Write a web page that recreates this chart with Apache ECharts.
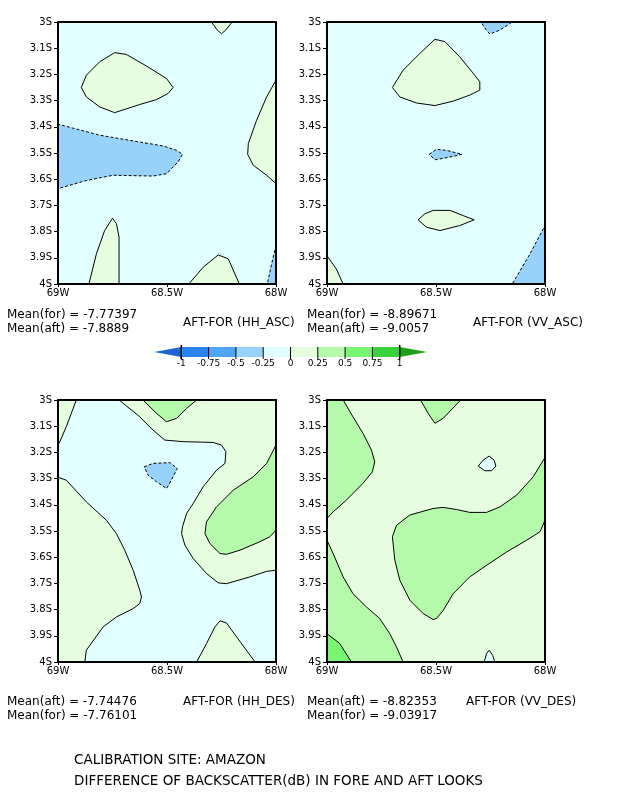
<!DOCTYPE html>
<html>
<head>
<meta charset="utf-8">
<script src="https://cdn.jsdelivr.net/npm/echarts@6/dist/echarts.min.js"></script>
<style>
html, body { margin: 0; padding: 0; background: #fff; }
#container { width: 618px; height: 800px; }
</style>
</head>
<body>
<div id="container"></div>
<script>
// contour levels and the shade of each band (below -1 ... above 1)
const levels = [-1, -0.75, -0.5, -0.25, 0, 0.25, 0.5, 0.75, 1];
const shadeColors = ['#1e64d2', '#2882f0', '#50a5f5', '#96d2fa', '#e1ffff',
                     '#e6fde0', '#b4faaa', '#78f573', '#37d23c', '#1ea01e'];

const panelTitles = ['AFT-FOR (HH_ASC)', 'AFT-FOR (VV_ASC)', 'AFT-FOR (HH_DES)', 'AFT-FOR (VV_DES)'];
const meanNames = [['Mean(for)', 'Mean(aft)'], ['Mean(for)', 'Mean(aft)'],
                   ['Mean(aft)', 'Mean(for)'], ['Mean(aft)', 'Mean(for)']];
const meanValues = [[-7.77397, -7.8889], [-8.89671, -9.0057],
                    [-7.74476, -7.76101], [-8.82353, -9.03917]];
// lower bound of the band that fills most of each panel
const panelBase = [-0.25, -0.25, 0, 0];

// contour regions, [lon, lat]; points past the frame are clipped
const hhAscTopNub = [[-68.31, -2.97], [-68.296, -3.0], [-68.27, -3.03], [-68.25, -3.045], [-68.23, -3.03], [-68.201, -3.0], [-68.19, -2.97]];
const hhAscNorthBlob = [[-68.893, -3.25], [-68.87, -3.203], [-68.809, -3.152], [-68.74, -3.117], [-68.686, -3.124], [-68.594, -3.168],
  [-68.502, -3.216], [-68.472, -3.25], [-68.495, -3.273], [-68.548, -3.296], [-68.625, -3.315], [-68.74, -3.346], [-68.809, -3.324], [-68.87, -3.286]];
const hhAscWestTongue = [[-69.05, -3.39], [-69, -3.39], [-68.809, -3.432], [-68.655, -3.454], [-68.518, -3.473], [-68.456, -3.49],
  [-68.429, -3.505], [-68.449, -3.534], [-68.502, -3.579], [-68.564, -3.588], [-68.747, -3.585], [-68.87, -3.605], [-69, -3.636], [-69.05, -3.64]];
const hhAscEastLobe = [[-67.95, -3.2], [-68, -3.222], [-68.043, -3.286], [-68.089, -3.375], [-68.127, -3.464], [-68.13, -3.505],
  [-68.104, -3.547], [-68.043, -3.585], [-68, -3.617], [-67.95, -3.63]];
const hhAscSouthFinger = [[-68.865, -4.05], [-68.858, -4.0], [-68.824, -3.885], [-68.786, -3.796], [-68.75, -3.749], [-68.732, -3.77],
  [-68.72, -3.821], [-68.72, -4.0], [-68.72, -4.05]];
const hhAscSouthHill = [[-68.41, -4.05], [-68.4, -4.0], [-68.334, -3.936], [-68.265, -3.889], [-68.219, -3.904], [-68.168, -4.0], [-68.16, -4.05]];
const hhAscSouthEastDip = [[-68.045, -4.05], [-68.04, -4.0], [-68.02, -3.923], [-68, -3.853], [-67.95, -3.84], [-67.95, -4.05]];

const vvAscNorthDip = [[-68.3, -2.97], [-68.294, -3.0], [-68.27, -3.03], [-68.253, -3.046], [-68.207, -3.031], [-68.15, -3.0], [-68.14, -2.97]];
const vvAscNorthBlob = [[-68.7, -3.25], [-68.651, -3.184], [-68.574, -3.12], [-68.505, -3.066], [-68.459, -3.075], [-68.391, -3.133],
  [-68.329, -3.196], [-68.299, -3.228], [-68.299, -3.26], [-68.345, -3.279], [-68.421, -3.302], [-68.505, -3.319], [-68.59, -3.309], [-68.666, -3.286]];
const vvAscCentreLens = [[-68.531, -3.505], [-68.498, -3.486], [-68.452, -3.49], [-68.38, -3.505], [-68.452, -3.518], [-68.505, -3.526]];
const vvAscSouthLens = [[-68.582, -3.755], [-68.551, -3.732], [-68.513, -3.719], [-68.436, -3.719], [-68.375, -3.739], [-68.325, -3.755],
  [-68.391, -3.777], [-68.482, -3.796], [-68.544, -3.783]];
const vvAscSouthWest = [[-69.05, -3.88], [-69, -3.892], [-68.957, -3.943], [-68.926, -4.0], [-68.92, -4.05], [-69.05, -4.05]];
const vvAscSouthEast = [[-67.95, -3.76], [-68, -3.777], [-68.069, -3.885], [-68.15, -4.0], [-68.155, -4.05], [-67.95, -4.05]];

const hhDesChannel = [[-68.93, -2.95], [-68.916, -3.0], [-68.962, -3.102], [-68.995, -3.166], [-69.05, -3.21], [-69.05, -3.28],
  [-68.962, -3.306], [-68.87, -3.389], [-68.778, -3.459], [-68.732, -3.51], [-68.694, -3.573], [-68.655, -3.65], [-68.625, -3.726],
  [-68.617, -3.752], [-68.625, -3.777], [-68.655, -3.796], [-68.732, -3.828], [-68.793, -3.866], [-68.87, -3.955], [-68.877, -4.0],
  [-68.88, -4.05], [-68.39, -4.05], [-68.364, -4.0], [-68.319, -3.93], [-68.28, -3.866], [-68.257, -3.843], [-68.227, -3.851],
  [-68.181, -3.904], [-68.096, -4.0], [-68.09, -4.05], [-67.95, -4.05], [-67.95, -3.648], [-68, -3.65], [-68.043, -3.654],
  [-68.119, -3.675], [-68.227, -3.701], [-68.265, -3.698], [-68.319, -3.662], [-68.38, -3.605], [-68.418, -3.554], [-68.433, -3.51],
  [-68.429, -3.484], [-68.41, -3.433], [-68.38, -3.395], [-68.334, -3.331], [-68.273, -3.268], [-68.234, -3.242], [-68.23, -3.197],
  [-68.25, -3.172], [-68.288, -3.162], [-68.426, -3.159], [-68.51, -3.153], [-68.564, -3.115], [-68.625, -3.064], [-68.72, -3.0], [-68.71, -2.95]];
const hhDesNorthPatch = [[-68.62, -2.95], [-68.61, -3.0], [-68.548, -3.051], [-68.502, -3.083], [-68.456, -3.07], [-68.41, -3.032],
  [-68.364, -3.0], [-68.355, -2.95]];
const hhDesEastPatch = [[-67.95, -3.16], [-68, -3.172], [-68.043, -3.242], [-68.104, -3.293], [-68.196, -3.344], [-68.273, -3.408],
  [-68.319, -3.465], [-68.326, -3.51], [-68.303, -3.548], [-68.257, -3.586], [-68.227, -3.589], [-68.165, -3.573], [-68.074, -3.541],
  [-68.028, -3.522], [-68, -3.497], [-67.95, -3.49]];
const hhDesPit = [[-68.605, -3.255], [-68.564, -3.242], [-68.487, -3.239], [-68.453, -3.261], [-68.472, -3.293], [-68.502, -3.338],
  [-68.548, -3.312], [-68.587, -3.287]];

const vvDesNorthWest = [[-69.05, -2.95], [-68.92, -2.95], [-68.926, -3.0], [-68.881, -3.064], [-68.835, -3.127], [-68.796, -3.191],
  [-68.781, -3.236], [-68.792, -3.274], [-68.835, -3.318], [-68.911, -3.382], [-68.972, -3.427], [-69, -3.452], [-69.05, -3.46]];
const vvDesNorthNub = [[-68.58, -2.95], [-68.571, -3.0], [-68.536, -3.051], [-68.505, -3.089], [-68.467, -3.07], [-68.387, -3.0], [-68.38, -2.95]];
const vvDesSouthWest = [[-69.05, -3.53], [-69, -3.535], [-68.972, -3.586], [-68.926, -3.675], [-68.881, -3.739], [-68.819, -3.79],
  [-68.758, -3.834], [-68.712, -3.892], [-68.681, -3.943], [-68.651, -4.0], [-68.645, -4.05], [-69.05, -4.05]];
const vvDesCorner = [[-69.05, -3.88], [-69, -3.892], [-68.942, -3.929], [-68.888, -4.0], [-68.88, -4.05], [-69.05, -4.05]];
const vvDesCentre = [[-68.681, -3.478], [-68.62, -3.439], [-68.513, -3.414], [-68.467, -3.41], [-68.406, -3.418], [-68.345, -3.429],
  [-68.268, -3.429], [-68.207, -3.408], [-68.13, -3.363], [-68.054, -3.293], [-68, -3.219], [-67.95, -3.2], [-67.95, -3.46],
  [-68, -3.459], [-68.023, -3.503], [-68.084, -3.535], [-68.176, -3.58], [-68.268, -3.631], [-68.345, -3.675], [-68.421, -3.739],
  [-68.467, -3.803], [-68.498, -3.834], [-68.513, -3.838], [-68.559, -3.815], [-68.62, -3.764], [-68.666, -3.688], [-68.689, -3.611], [-68.7, -3.522]];
const vvDesHole = [[-68.306, -3.252], [-68.283, -3.229], [-68.256, -3.214], [-68.234, -3.229], [-68.225, -3.252], [-68.245, -3.27], [-68.276, -3.27]];
const vvDesSouthBump = [[-68.28, -4.05], [-68.279, -4.0], [-68.268, -3.968], [-68.256, -3.955], [-68.24, -3.975], [-68.23, -4.0], [-68.228, -4.05]];

// per panel: [points, lower bound of band, contour value of its outline], drawn in order
const panelRegions = [
  [[hhAscTopNub, 0, 0], [hhAscNorthBlob, 0, 0], [hhAscWestTongue, -0.5, -0.25], [hhAscEastLobe, 0, 0],
   [hhAscSouthFinger, 0, 0], [hhAscSouthHill, 0, 0], [hhAscSouthEastDip, -0.5, -0.25]],
  [[vvAscNorthDip, -0.5, -0.25], [vvAscNorthBlob, 0, 0], [vvAscCentreLens, -0.5, -0.25], [vvAscSouthLens, 0, 0],
   [vvAscSouthWest, 0, 0], [vvAscSouthEast, -0.5, -0.25]],
  [[hhDesChannel, -0.25, 0], [hhDesNorthPatch, 0.25, 0.25], [hhDesEastPatch, 0.25, 0.25], [hhDesPit, -0.5, -0.25]],
  [[vvDesNorthWest, 0.25, 0.25], [vvDesNorthNub, 0.25, 0.25], [vvDesSouthWest, 0.25, 0.25], [vvDesCorner, 0.5, 0.5],
   [vvDesCentre, 0.25, 0.25], [vvDesHole, -0.25, 0], [vvDesSouthBump, -0.25, 0]]
];

const FONT = '"DejaVu Sans", sans-serif';

function bandColor(lo) {
  return shadeColors[levels.indexOf(lo) + 1];
}

let dom = document.getElementById('container');
let myChart = echarts.init(dom, null, { renderer: 'canvas' });

const panelBoxes = [[58, 22], [327, 22], [58, 400], [327, 400]];
const grids = [], xAxes = [], yAxes = [], series = [];

panelBoxes.forEach(function (b, p) {
  grids.push({
    left: b[0], top: b[1], width: 218, height: 262,
    show: true, backgroundColor: bandColor(panelBase[p]), borderWidth: 0
  });
  const frameLine = { show: true, lineStyle: { color: '#000', width: 2 } };
  xAxes.push({
    gridIndex: p, type: 'value', min: -69, max: -68, interval: 0.5, z: 10,
    axisLine: frameLine, splitLine: { show: false },
    axisTick: { show: true, length: 3, lineStyle: { color: '#000' } },
    axisLabel: {
      color: '#000', fontSize: 10, fontFamily: FONT, margin: 4,
      formatter: function (v) { return Math.abs(v) + 'W'; }
    }
  });
  xAxes.push({
    gridIndex: p, type: 'value', position: 'top', min: -69, max: -68, z: 10,
    axisLine: frameLine, splitLine: { show: false }, axisTick: { show: false }, axisLabel: { show: false }
  });
  yAxes.push({
    gridIndex: p, type: 'value', min: -4, max: -3, interval: 0.1, z: 10,
    axisLine: frameLine, splitLine: { show: false },
    axisTick: { show: true, length: 4, lineStyle: { color: '#000' } },
    axisLabel: {
      color: '#000', fontSize: 10, fontFamily: FONT, margin: 6,
      formatter: function (v) { return Math.abs(Math.round(v * 10) / 10) + 'S'; }
    }
  });
  yAxes.push({
    gridIndex: p, type: 'value', position: 'right', min: -4, max: -3, z: 10,
    axisLine: frameLine, splitLine: { show: false }, axisTick: { show: false }, axisLabel: { show: false }
  });

  const regions = panelRegions[p];
  series.push({
    type: 'custom',
    xAxisIndex: p * 2, yAxisIndex: p * 2,
    clip: true,
    silent: true,
    data: regions.map(function (r, i) { return [i]; }),
    renderItem: function (params, api) {
      const r = regions[params.dataIndex];
      return {
        type: 'polygon',
        shape: { points: r[0].map(function (pt) { return api.coord(pt); }) },
        style: {
          fill: bandColor(r[1]),
          stroke: '#000',
          lineWidth: 1,
          lineDash: r[2] < 0 ? [3, 2] : null
        }
      };
    }
  });
});

// colour bar
grids.push({ left: 154, top: 347, width: 273, height: 10 });
xAxes.push({
  gridIndex: 4, type: 'value', min: -1.25, max: 1.25, interval: 0.25,
  axisLine: { show: false }, axisTick: { show: false }, splitLine: { show: false },
  axisLabel: {
    color: '#000', fontSize: 9, fontFamily: FONT, margin: 2,
    formatter: function (v) { return Math.abs(v) > 1.01 ? '' : String(v); }
  }
});
yAxes.push({ gridIndex: 4, type: 'value', min: 0, max: 1, show: false });
series.push({
  type: 'custom',
  xAxisIndex: 8, yAxisIndex: 8,
  silent: true,
  data: shadeColors.map(function (c, i) { return [i]; }),
  renderItem: function (params, api) {
    const i = params.dataIndex;
    const color = shadeColors[i];
    if (i === 0 || i === shadeColors.length - 1) {
      const edge = i === 0 ? levels[0] : levels[levels.length - 1];
      const tip = i === 0 ? -1.25 : 1.25;
      const a = api.coord([edge, 1]), b = api.coord([edge, 0]), t = api.coord([tip, 0.5]);
      return {
        type: 'group',
        children: [
          { type: 'polygon', shape: { points: [a, b, t] }, style: { fill: color } },
          { type: 'line', shape: { x1: a[0], y1: a[1] - 2, x2: b[0], y2: b[1] + 2 }, style: { stroke: '#000', lineWidth: 1.5 } }
        ]
      };
    }
    const p0 = api.coord([levels[i - 1], 1]);
    const p1 = api.coord([levels[i], 0]);
    return {
      type: 'group',
      children: [
        { type: 'rect', shape: { x: p0[0], y: p0[1], width: p1[0] - p0[0], height: p1[1] - p0[1] }, style: { fill: color } },
        { type: 'line', shape: { x1: p0[0], y1: p0[1], x2: p0[0], y2: p1[1] + 2 }, style: { stroke: '#000', lineWidth: 1 } }
      ]
    };
  }
});

// annotation text
const textPos = [[7, 316, 183, 324], [307, 316, 473, 324], [7, 703, 183, 703], [307, 703, 466, 703]];
const graphics = [];
textPos.forEach(function (t, p) {
  meanNames[p].forEach(function (name, k) {
    graphics.push({
      type: 'text', left: t[0], top: t[1] - 7 + k * 14,
      style: { text: name + ' = ' + meanValues[p][k], fill: '#000', font: '12px ' + FONT }
    });
  });
  graphics.push({
    type: 'text', left: t[2], top: t[3] - 7,
    style: { text: panelTitles[p], fill: '#000', font: '12px ' + FONT }
  });
});
graphics.push({
  type: 'text', left: 74, top: 753,
  style: { text: 'CALIBRATION SITE: AMAZON', fill: '#000', font: '13.5px ' + FONT }
});
graphics.push({
  type: 'text', left: 74, top: 774,
  style: { text: 'DIFFERENCE OF BACKSCATTER(dB) IN FORE AND AFT LOOKS', fill: '#000', font: '13.5px ' + FONT }
});

let option = {
  backgroundColor: '#fff',
  animation: false,
  grid: grids,
  xAxis: xAxes,
  yAxis: yAxes,
  series: series,
  graphic: graphics
};
myChart.setOption(option);
</script>
</body>
</html>
